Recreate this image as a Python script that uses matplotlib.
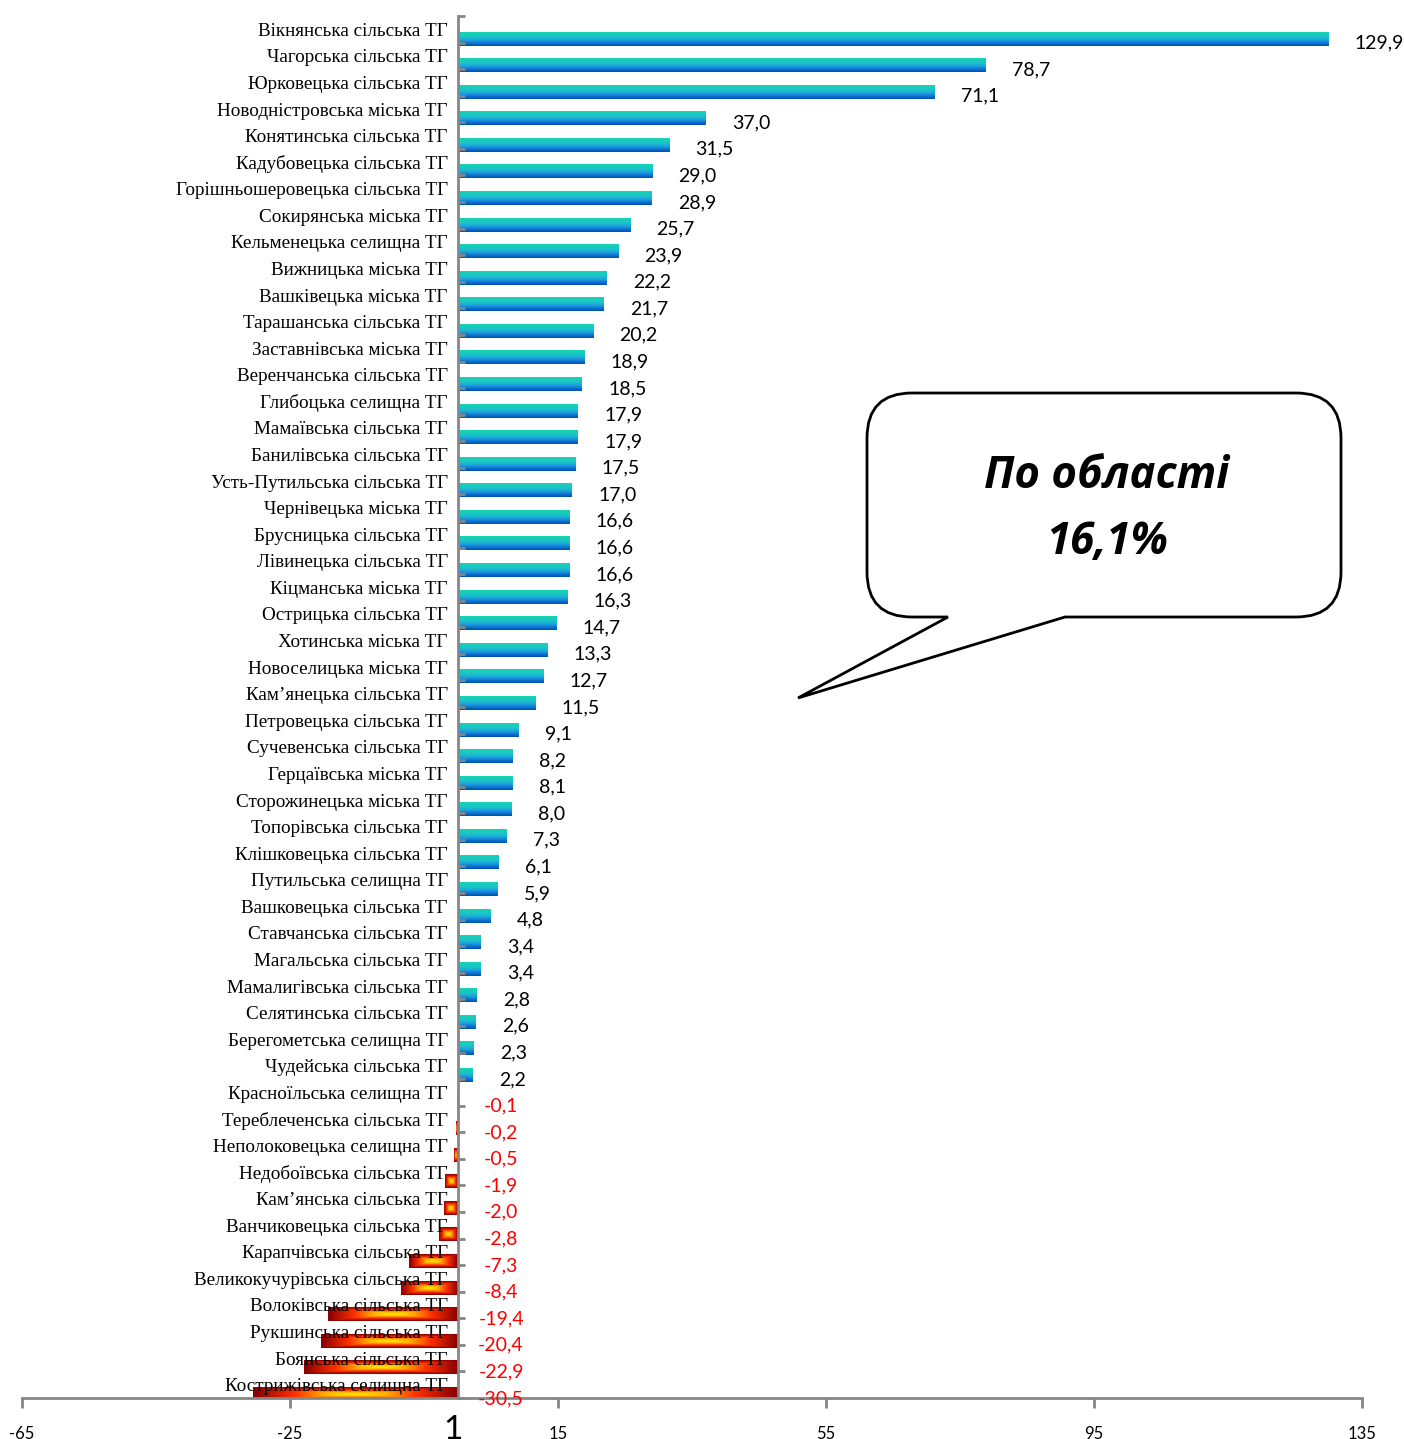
import numpy as np
import matplotlib.pyplot as plt
from matplotlib.colors import LinearSegmentedColormap
from matplotlib.path import Path
from matplotlib.patches import PathPatch
import matplotlib.transforms as mtransforms

communities = [
    'Вікнянська сільська ТГ', 'Чагорська сільська ТГ', 'Юрковецька сільська ТГ',
    'Новодністровська міська ТГ', 'Конятинська сільська ТГ', 'Кадубовецька сільська ТГ',
    'Горішньошеровецька сільська ТГ', 'Сокирянська міська ТГ', 'Кельменецька селищна ТГ',
    'Вижницька міська ТГ', 'Вашківецька міська ТГ', 'Тарашанська сільська ТГ',
    'Заставнівська міська ТГ', 'Веренчанська сільська ТГ', 'Глибоцька селищна ТГ',
    'Мамаївська сільська ТГ', 'Банилівська сільська ТГ', 'Усть-Путильська сільська ТГ',
    'Чернівецька міська ТГ', 'Брусницька сільська ТГ', 'Лівинецька сільська ТГ',
    'Кіцманська міська ТГ', 'Острицька сільська ТГ', 'Хотинська міська ТГ',
    'Новоселицька міська ТГ', 'Кам’янецька сільська ТГ', 'Петровецька сільська ТГ',
    'Сучевенська сільська ТГ', 'Герцаївська міська ТГ', 'Сторожинецька міська ТГ',
    'Топорівська сільська ТГ', 'Клішковецька сільська ТГ', 'Путильська селищна ТГ',
    'Вашковецька сільська ТГ', 'Ставчанська сільська ТГ', 'Магальська сільська ТГ',
    'Мамалигівська сільська ТГ', 'Селятинська сільська ТГ', 'Берегометська селищна ТГ',
    'Чудейська сільська ТГ', 'Красноїльська селищна ТГ', 'Тереблеченська сільська ТГ',
    'Неполоковецька селищна ТГ', 'Недобоївська сільська ТГ', 'Кам’янська сільська ТГ',
    'Ванчиковецька сільська ТГ', 'Карапчівська сільська ТГ', 'Великокучурівська сільська ТГ',
    'Волоківська сільська ТГ', 'Рукшинська сільська ТГ', 'Боянська сільська ТГ',
    'Кострижівська селищна ТГ',
]
growth = [
    129.9, 78.7, 71.1, 37.0, 31.5, 29.0, 28.9, 25.7, 23.9, 22.2, 21.7, 20.2, 18.9,
    18.5, 17.9, 17.9, 17.5, 17.0, 16.6, 16.6, 16.6, 16.3, 14.7, 13.3, 12.7, 11.5,
    9.1, 8.2, 8.1, 8.0, 7.3, 6.1, 5.9, 4.8, 3.4, 3.4, 2.8, 2.6, 2.3, 2.2,
    -0.1, -0.2, -0.5, -1.9, -2.0, -2.8, -7.3, -8.4, -19.4, -20.4, -22.9, -30.5,
]
x_ticks = [-65, -25, 15, 55, 95, 135]
region_text = ['По області', '16,1%']

W, H = 1404, 1439
n = len(communities)
fig = plt.figure(figsize=(W / 100, H / 100), dpi=100)
ax = fig.add_axes([22 / W, 41 / H, 1340 / W, 1382 / H])

pos_cmap = LinearSegmentedColormap.from_list('pos', [
    (0.0, '#16D4B2'), (0.35, '#1BC4C8'), (0.6, '#1E9FE0'), (0.82, '#0B70CF'), (1.0, '#0052B0')])
neg_cmap = LinearSegmentedColormap.from_list('neg', [
    (0.0, '#FFF200'), (0.3, '#FFB000'), (0.6, '#FF3000'), (1.0, '#8B0000')])

pos_img = pos_cmap(np.linspace(0, 1, 40))[:, None, :]
uu, vv = np.meshgrid(np.linspace(-1, 1, 80), np.linspace(-1, 1, 20))
neg_img = neg_cmap(np.maximum(np.abs(uu), np.abs(vv)))

for i, (name, v) in enumerate(zip(communities, growth)):
    yc = n - 1 - i
    yb, yt = yc - 0.61, yc - 0.12
    ym = (yb + yt) / 2
    if v >= 0:
        ax.imshow(pos_img, extent=(0, v, yb, yt), origin='upper', aspect='auto',
                  interpolation='bilinear', zorder=1)
        ax.text(v + 4.0, ym - 0.15, f'{v:.1f}'.replace('.', ','), ha='left', va='center',
                fontsize=14, family=['Lato', 'DejaVu Sans'], color='black')
    else:
        ax.imshow(neg_img, extent=(v, 0, yb, yt), origin='upper', aspect='auto',
                  interpolation='bilinear', zorder=1)
        ax.text(6.5, ym - 0.15, f'{v:.1f}'.replace('.', ','), ha='center', va='center',
                fontsize=14, family=['Lato', 'DejaVu Sans'], color='#FF0000')

ax.set_xlim(-65, 135)
ax.set_ylim(-0.5, n - 0.5)

ax.spines['top'].set_visible(False)
ax.spines['right'].set_visible(False)
ax.spines['left'].set_position(('data', 0))
for s in ['left', 'bottom']:
    ax.spines[s].set_color('#868686')
    ax.spines[s].set_linewidth(2)

ax.set_yticks(np.arange(n)[::-1])
ax.set_yticklabels(communities, family='Liberation Serif', fontsize=13.8)
ax.set_yticks(np.arange(n + 1) - 0.5, minor=True)
ax.tick_params(axis='y', which='major', length=0, pad=7)
ax.tick_params(axis='y', which='minor', direction='in', length=5, width=2, color='#868686')
for lab in ax.get_yticklabels():
    lab.set_zorder(5)

ax.set_xticks(x_ticks)
ax.set_xticklabels([str(t) for t in x_ticks], family=['Lato', 'DejaVu Sans'], fontsize=12)
ax.tick_params(axis='x', direction='out', length=7, width=2, color='#868686', pad=13)

trans = mtransforms.blended_transform_factory(ax.transData, ax.transAxes)
ax.text(-0.7, -0.023, '1', transform=trans, ha='center', va='center', fontsize=24,
        family=['Lato', 'DejaVu Sans'])

# callout box
def fp(x, y):
    return (x / W, 1 - y / H)

L, R, T, B, r = 867, 1341, 393, 617, 45
verts = [fp(948, B), fp(798, 698), fp(1065, B), fp(R - r, B),
         fp(R, B), fp(R, B - r), fp(R, T + r),
         fp(R, T), fp(R - r, T), fp(L + r, T),
         fp(L, T), fp(L, T + r), fp(L, B - r),
         fp(L, B), fp(L + r, B), fp(948, B)]
codes = [Path.MOVETO, Path.LINETO, Path.LINETO, Path.LINETO,
         Path.CURVE3, Path.CURVE3, Path.LINETO,
         Path.CURVE3, Path.CURVE3, Path.LINETO,
         Path.CURVE3, Path.CURVE3, Path.LINETO,
         Path.CURVE3, Path.CURVE3, Path.CLOSEPOLY]
callout = PathPatch(Path(verts, codes), transform=fig.transFigure, facecolor='white',
                    edgecolor='black', lw=2, zorder=10)
fig.add_artist(callout)
fig.text(1107 / W, 1 - 476 / H, region_text[0], ha='center', va='center', fontsize=31.5,
         fontweight='bold', fontstyle='italic', family=['Open Sans', 'DejaVu Sans'], zorder=11)
fig.text(1107 / W, 1 - 543 / H, region_text[1], ha='center', va='center', fontsize=31.5,
         fontweight='bold', fontstyle='italic', family=['Open Sans', 'DejaVu Sans'], zorder=11)

fig.savefig('out.png', dpi=100)
